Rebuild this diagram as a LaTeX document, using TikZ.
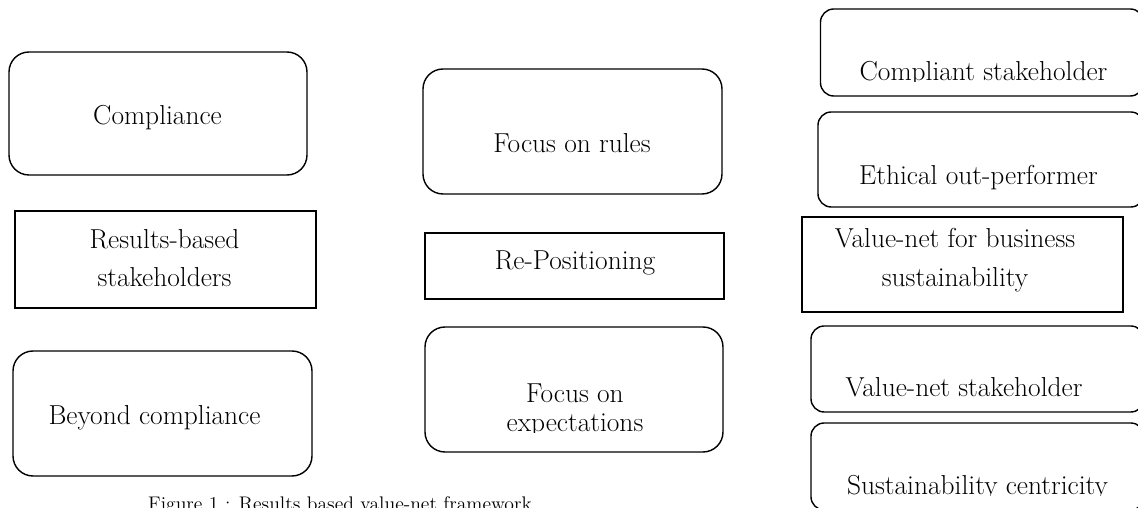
\documentclass[tikz,border=0pt]{standalone}
\usetikzlibrary{positioning}

\begin{document}
\begin{tikzpicture}[
    every node/.style={font=\fontsize{19.5}{26}\selectfont},
    roundbox/.style={draw, line width=1pt, rounded corners=0.5cm, inner sep=0pt},
    sidebox/.style={draw, line width=1pt, rounded corners=0.33cm, inner sep=0pt},
    plainbox/.style={draw, line width=1pt, inner sep=0pt},
    boxtext/.style={anchor=base, inner sep=0pt, align=center}
]
\clip (0,0) rectangle (28.45,12.7);

% Left column
\node[roundbox, minimum width=7.45cm, minimum height=3.075cm] (compl) at (3.95,9.8625) {};
\node[boxtext] (compltext) at (3.9375,9.575) {Compliance};

\node[plainbox, minimum width=7.525cm, minimum height=2.425cm] (resb) at (4.1375,6.2125) {};
\node[boxtext, font=\fontsize{19.5}{27.7}\selectfont] (resbtext) at (4.1125,5.525) {Results-based\\stakeholders};

\node[roundbox, minimum width=7.475cm, minimum height=3.125cm] (beyond) at (4.0625,2.3625) {};
\node[boxtext] (beyondtext) at (3.8625,2.075) {Beyond compliance};

% Middle column
\node[roundbox, minimum width=7.475cm, minimum height=3.125cm] (rules) at (14.3125,9.4125) {};
\node[boxtext] (rulestext) at (14.3,8.875) {Focus on rules};

\node[plainbox, minimum width=7.475cm, minimum height=1.65cm] (repos) at (14.3625,6.05) {};
\node[boxtext] (repostext) at (14.375,5.95) {Re-Positioning};

\node[roundbox, minimum width=7.45cm, minimum height=3.125cm] (expect) at (14.35,2.9625) {};
\begin{scope}
\clip (10.7,1.875) rectangle (18,4.4);
\node[boxtext, font=\fontsize{19.5}{21.3}\selectfont] (expecttext) at (14.375,1.9) {Focus on\\expectations};
\end{scope}

% Right column
\node[sidebox, minimum width=8.075cm, minimum height=2.175cm] (cstake) at (24.55,11.3875) {};
\begin{scope}
\clip (20.6,10.6625) rectangle (28.45,12.4);
\node[boxtext] (cstaketext) at (24.5875,10.675) {Compliant stakeholder};
\end{scope}

\node[sidebox, minimum width=8.15cm, minimum height=2.375cm] (ethic) at (24.525,8.7125) {};
\node[boxtext] (ethictext) at (24.4625,8.075) {Ethical out-performer};

\node[plainbox, minimum width=8.025cm, minimum height=2.375cm] (vnet) at (24.0625,6.0875) {};
\node[boxtext, font=\fontsize{19.5}{28.4}\selectfont] (vnettext) at (23.875,5.525) {Value-net for business\\sustainability};

\node[sidebox, minimum width=8.325cm, minimum height=2.15cm] (vstake) at (24.4375,3.475) {};
\node[boxtext] (vstaketext) at (24.1,2.775) {Value-net stakeholder};

\node[sidebox, minimum width=8.325cm, minimum height=2.175cm] (sustc) at (24.4375,1.0375) {};
\begin{scope}
\clip (20.4,0.3) rectangle (28.45,2.1);
\node[boxtext] (sustctext) at (24.4375,0.325) {Sustainability centricity};
\end{scope}

% Caption
\node[boxtext, font=\fontsize{14}{17}\selectfont] (caption) at (8.5,-0.0625) {Figure 1 : Results based value-net framework};

\end{tikzpicture}
\end{document}
